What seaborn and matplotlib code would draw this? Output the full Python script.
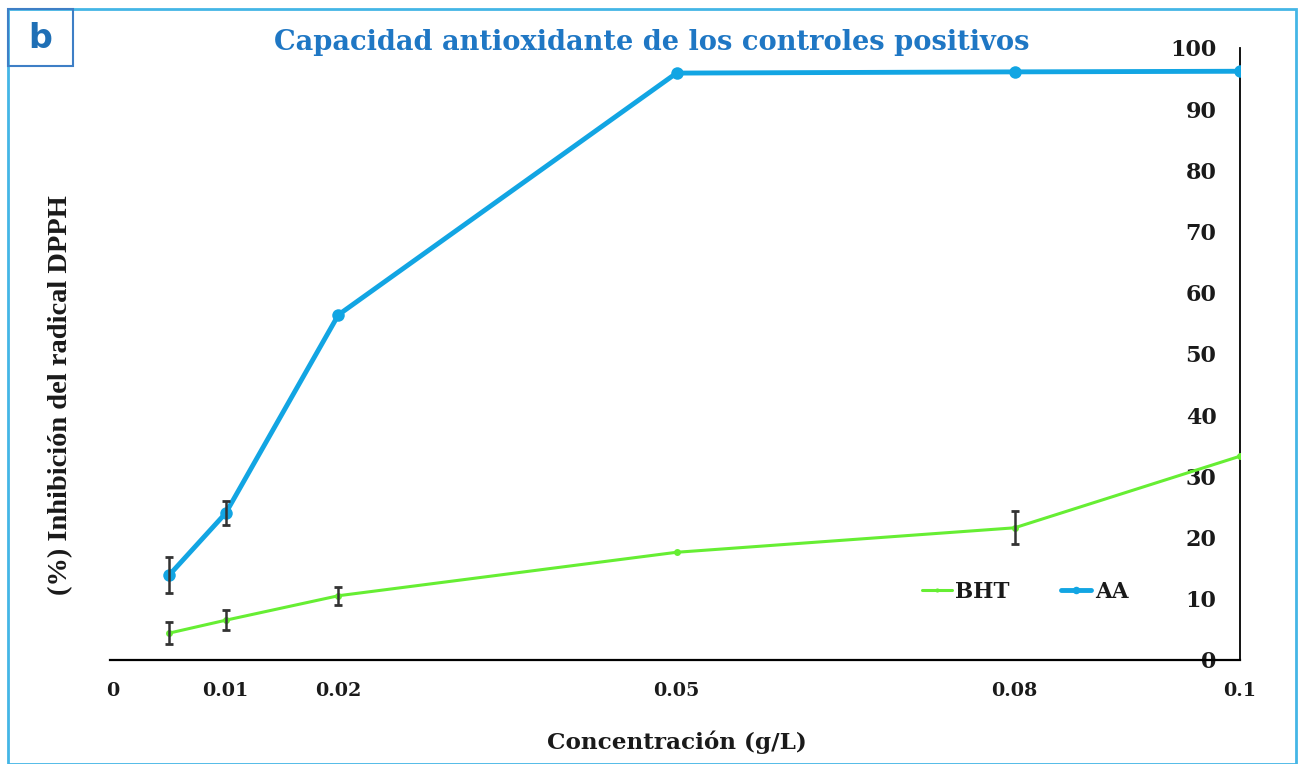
import matplotlib
matplotlib.use("Agg")
import matplotlib.pyplot as plt
import seaborn as sns
import pandas as pd
from matplotlib.patches import Rectangle

# ---- data ----
conc = [0.005, 0.01, 0.02, 0.05, 0.08, 0.1]
aa = [13.9, 24.0, 56.4, 95.9, 96.1, 96.2]
aa_err = [2.9, 2.0, 0.0, 0.0, 0.0, 0.0]
bht = [4.4, 6.5, 10.5, 17.6, 21.6, 33.3]
bht_err = [1.8, 1.6, 1.5, 0.0, 2.7, 0.0]
xticks = [0, 0.01, 0.02, 0.05, 0.08, 0.1]
xticklabels = ["0", "0.01", "0.02", "0.05", "0.08", "0.1"]
yticks = [0, 10, 20, 30, 40, 50, 60, 70, 80, 90, 100]

title = "Capacidad antioxidante de los controles positivos"
xlabel = "Concentración (g/L)"
ylabel = "(%) Inhibición del radical DPPH"

sns.set_theme(style="white")
plt.rcParams["font.family"] = ["DejaVu Serif", "Liberation Serif"]

AA_COLOR = "#12A5E3"
BHT_COLOR = "#66EE33"
TXT = "#1a1a1a"

fig = plt.figure(figsize=(13.04, 7.64), dpi=100)
ax = fig.add_axes([113 / 1304, 1 - 660 / 764, 1127 / 1304, 612 / 764])

df = pd.DataFrame({"x": conc + conc,
                   "y": bht + aa,
                   "serie": ["BHT"] * len(conc) + ["AA"] * len(conc)})

sns.lineplot(data=df[df.serie == "AA"], x="x", y="y", ax=ax, color=AA_COLOR,
             linewidth=3.5, marker="o", markersize=9, markeredgewidth=0,
             label="AA", zorder=3)
sns.lineplot(data=df[df.serie == "BHT"], x="x", y="y", ax=ax, color=BHT_COLOR,
             linewidth=2.2, marker="o", markersize=5, markeredgewidth=0,
             label="BHT", zorder=3)

for ys, es in ((aa, aa_err), (bht, bht_err)):
    xs = [c for c, e in zip(conc, es) if e > 0]
    yv = [v for v, e in zip(ys, es) if e > 0]
    ev = [e for e in es if e > 0]
    ax.errorbar(xs, yv, yerr=ev, fmt="none", ecolor="#333333",
                elinewidth=1.8, capsize=3, capthick=2, zorder=4)

ax.set_xlim(0, 0.1)
ax.set_ylim(0, 100)
ax.set_xticks(xticks)
ax.set_xticklabels(xticklabels)
ax.set_yticks(yticks)

for s in ("top", "left"):
    ax.spines[s].set_visible(False)
ax.spines["right"].set_color("black")
ax.spines["bottom"].set_color("black")
ax.spines["right"].set_linewidth(1.3)
ax.spines["bottom"].set_linewidth(1.6)
ax.spines["bottom"].set_bounds(-0.0003, 0.1)

ax.yaxis.tick_right()
ax.tick_params(axis="y", which="both", length=0, pad=-17, labelsize=16,
               labelcolor=TXT)
for lbl in ax.get_yticklabels():
    lbl.set_horizontalalignment("right")
    lbl.set_fontweight("bold")
ax.tick_params(axis="x", length=0, pad=16, labelsize=13.8, labelcolor=TXT)
for lbl in ax.get_xticklabels():
    lbl.set_fontweight("bold")

ax.set_xlabel(xlabel, fontsize=16.7, fontweight="bold", color=TXT, labelpad=22)
ax.set_ylabel("")
fig.text(61 / 1304, 1 - 395 / 764, ylabel, rotation=90, fontsize=20.5,
         fontweight="bold", color=TXT, ha="center", va="center",
         family=["Liberation Serif"])

fig.text(652 / 1304, 1 - 42 / 764, title, fontsize=19.6, fontweight="bold",
         color="#1F77C4", ha="center", va="center")

handles, labels = ax.get_legend_handles_labels()
order = [labels.index("BHT"), labels.index("AA")]
leg = ax.legend([handles[i] for i in order], [labels[i] for i in order],
                loc="center", bbox_to_anchor=(1025 / 1304, 1 - 592 / 764),
                bbox_transform=fig.transFigure, ncol=2, frameon=False,
                handlelength=1.4, handletextpad=0.15, columnspacing=2.4,
                markerscale=0.6,
                prop={"weight": "bold", "size": 15.5})
for t in leg.get_texts():
    t.set_color(TXT)

# outer frame and panel label box
fig.patches.append(Rectangle((8 / 1304, 0), 1288 / 1304, 1 - 9 / 764,
                             transform=fig.transFigure, fill=False,
                             edgecolor="#44B6E6", linewidth=2))
fig.patches.append(Rectangle((8 / 1304, 1 - 66 / 764), 65 / 1304, 57 / 764,
                             transform=fig.transFigure, fill=False,
                             edgecolor="#3E7FC6", linewidth=1.5))
fig.text(40 / 1304, 1 - 39 / 764, "b", fontsize=24, fontweight="bold",
         color="#1F6FB5", ha="center", va="center",
         family=["DejaVu Sans"])

fig.savefig("out.png", dpi=100)
